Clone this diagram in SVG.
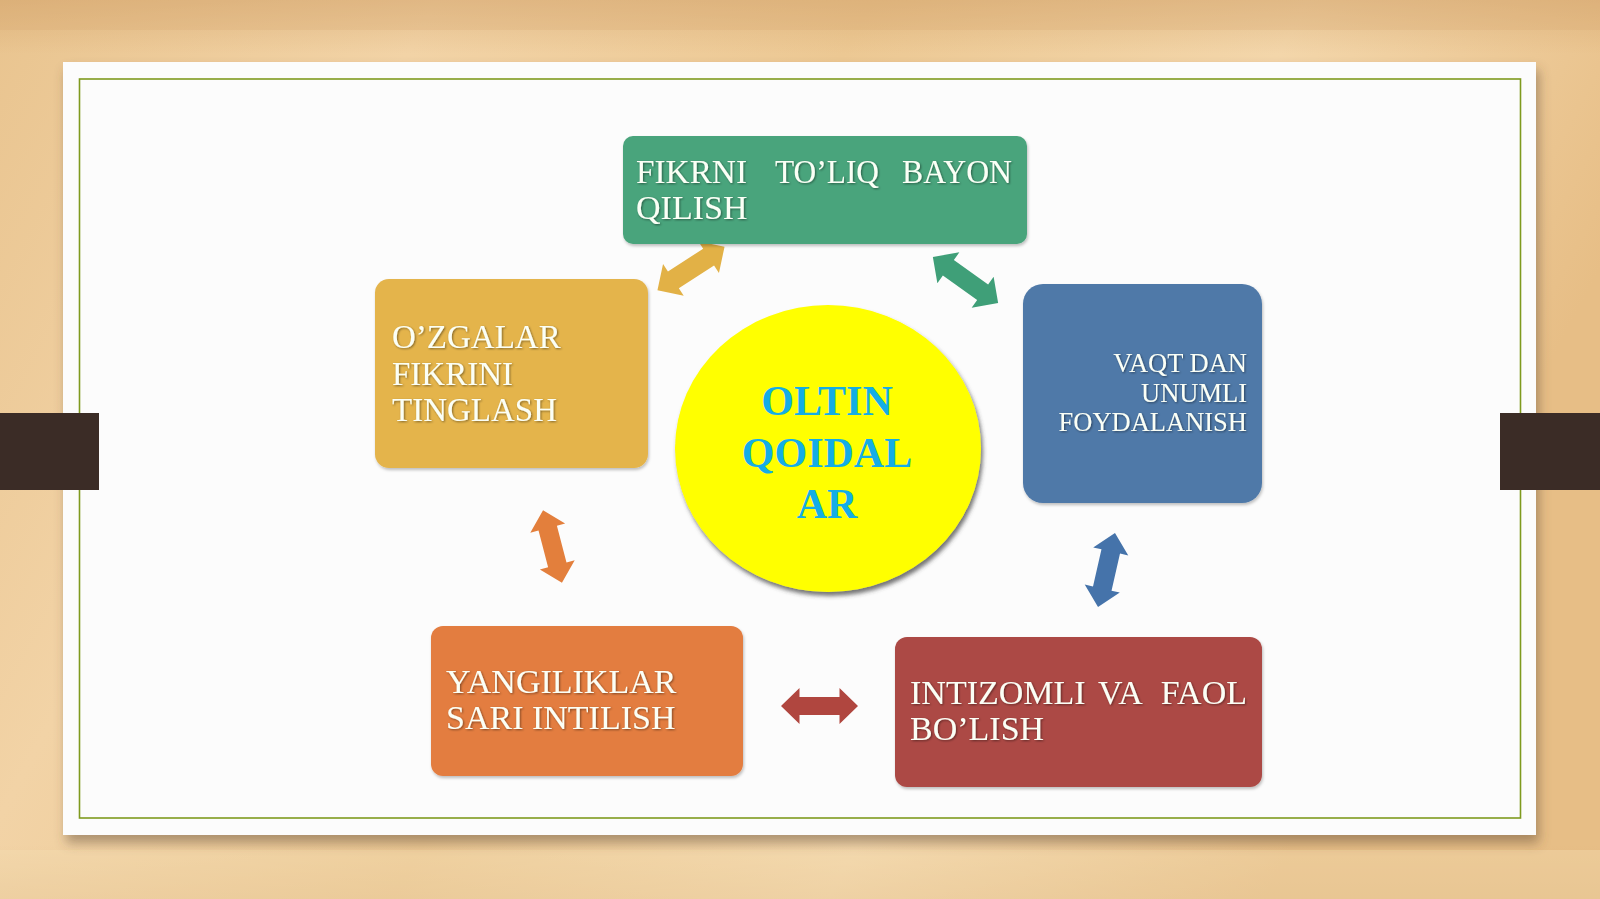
<svg xmlns="http://www.w3.org/2000/svg" width="1600" height="899" viewBox="0 0 1600 899">
  <defs>
    <linearGradient id="wood" x1="0" y1="0" x2="1" y2="0.3">
      <stop offset="0" stop-color="#e9c48f"/>
      <stop offset="0.25" stop-color="#f2d3a6"/>
      <stop offset="0.5" stop-color="#ecc893"/>
      <stop offset="0.75" stop-color="#f3d6aa"/>
      <stop offset="1" stop-color="#e7be86"/>
    </linearGradient>
    <linearGradient id="grain" x1="0" y1="0" x2="0" y2="1">
      <stop offset="0" stop-color="#c9955a" stop-opacity="0.35"/>
      <stop offset="0.06" stop-color="#c9955a" stop-opacity="0"/>
      <stop offset="0.94" stop-color="#c9955a" stop-opacity="0"/>
      <stop offset="1" stop-color="#c9955a" stop-opacity="0.2"/>
    </linearGradient>
    <filter id="cardShadow" x="-5%" y="-5%" width="110%" height="115%">
      <feDropShadow dx="3" dy="8" stdDeviation="6" flood-color="#5a4630" flood-opacity="0.45"/>
    </filter>
    <filter id="txtShadow" x="-5%" y="-20%" width="110%" height="140%">
      <feDropShadow dx="1" dy="1" stdDeviation="0.8" flood-color="#000" flood-opacity="0.45"/>
    </filter>
    <filter id="soft" x="-10%" y="-10%" width="120%" height="120%">
      <feDropShadow dx="1" dy="2" stdDeviation="1.5" flood-color="#000" flood-opacity="0.25"/>
    </filter>
    <filter id="circShadow" x="-10%" y="-10%" width="125%" height="125%">
      <feDropShadow dx="2" dy="4" stdDeviation="2" flood-color="#3a3a3a" flood-opacity="0.7"/>
    </filter>
  </defs>
  <style>
    .lbl { font-family: "Liberation Serif", "Times New Roman", serif; fill: #fbfff6; filter: url(#txtShadow); }
    .big { font-size: 34px; }
    .mid { font-size: 33px; }
    .sml { font-size: 26.5px; }
    .ctr { font-family: "Liberation Serif", "Times New Roman", serif; font-weight: bold; font-size: 42px; fill: #14ade6; text-anchor: middle; }
    .box { filter: url(#soft); }
  </style>

  <!-- background -->
  <rect x="0" y="0" width="1600" height="899" fill="url(#wood)"/>
  <rect x="0" y="0" width="1600" height="899" fill="url(#grain)"/>
  <rect x="0" y="0" width="1600" height="30" fill="#d9a86e" opacity="0.25"/>
  <rect x="0" y="850" width="1600" height="49" fill="#f6deb4" opacity="0.4"/>

  <!-- card -->
  <rect x="63" y="62" width="1473" height="773" fill="#fcfcfc" filter="url(#cardShadow)"/>
  <rect x="79.5" y="79" width="1441" height="739" fill="none" stroke="#7f9a1e" stroke-width="1.6"/>

  <!-- tabs -->
  <rect x="0" y="413" width="99" height="77" fill="#3b2c26"/>
  <rect x="1500" y="413" width="100" height="77" fill="#3b2c26"/>

  <!-- connectors -->
  <g id="connectors">
    <path transform="translate(691,268.5) rotate(-33)" fill="#e2b146" d="M -40,0 L -21,-19 L -21,-10 L 21,-10 L 21,-19 L 40,0 L 21,19 L 21,10 L -21,10 L -21,19 Z"/>
    <path transform="translate(965.5,280) rotate(35.3)" fill="#3f9f78" d="M -40,0 L -21,-19 L -21,-9.5 L 21,-9.5 L 21,-19 L 40,0 L 21,19 L 21,9.5 L -21,9.5 L -21,19 Z"/>
    <path transform="translate(552.5,546.5) rotate(75.4)" fill="#e37f3c" d="M -37.5,0 L -19,-18 L -19,-9.5 L 19,-9.5 L 19,-18 L 37.5,0 L 19,18 L 19,9.5 L -19,9.5 L -19,18 Z"/>
    <path transform="translate(1106.5,570) rotate(102.9)" fill="#4573aa" d="M -38,0 L -19,-18 L -19,-9.5 L 19,-9.5 L 19,-18 L 38,0 L 19,18 L 19,9.5 L -19,9.5 L -19,18 Z"/>
    <path transform="translate(819.5,706) rotate(0)" fill="#b0463f" d="M -38.5,0 L -20,-18 L -20,-9 L 20,-9 L 20,-18 L 38.5,0 L 20,18 L 20,9 L -20,9 L -20,18 Z"/>
  </g>

  <!-- nodes -->
  <g id="node-top">
    <rect class="box" x="623" y="136" width="404" height="108" rx="10" fill="#49a47b"/>
    <text class="lbl big" x="636" y="183" textLength="111" lengthAdjust="spacingAndGlyphs">FIKRNI</text>
    <text class="lbl big" x="775" y="183" textLength="104" lengthAdjust="spacingAndGlyphs">TO’LIQ</text>
    <text class="lbl big" x="902" y="183" textLength="110" lengthAdjust="spacingAndGlyphs">BAYON</text>
    <text class="lbl big" x="636" y="219">QILISH</text>
  </g>

  <g id="node-left">
    <rect class="box" x="375" y="279" width="273" height="189" rx="14" fill="#e4b44c"/>
    <text class="lbl mid" x="392" y="348">O’ZGALAR</text>
    <text class="lbl mid" x="392" y="385">FIKRINI</text>
    <text class="lbl mid" x="392" y="421">TINGLASH</text>
  </g>

  <g id="node-right">
    <rect class="box" x="1023" y="284" width="239" height="219" rx="20" fill="#4f79a8"/>
    <text class="lbl sml" x="1247" y="372" text-anchor="end">VAQT DAN</text>
    <text class="lbl sml" x="1247" y="402" text-anchor="end">UNUMLI</text>
    <text class="lbl sml" x="1247" y="431" text-anchor="end">FOYDALANISH</text>
  </g>

  <g id="node-bottom-left">
    <rect class="box" x="431" y="626" width="312" height="150" rx="12" fill="#e37d40"/>
    <text class="lbl big" x="446" y="693">YANGILIKLAR</text>
    <text class="lbl big" x="446" y="729">SARI INTILISH</text>
  </g>

  <g id="node-bottom-right">
    <rect class="box" x="895" y="637" width="367" height="150" rx="12" fill="#ac4a45"/>
    <text class="lbl big" x="910" y="704">INTIZOMLI</text>
    <text class="lbl big" x="1098" y="704">VA</text>
    <text class="lbl big" x="1247" y="704" text-anchor="end">FAOL</text>
    <text class="lbl big" x="910" y="740">BO’LISH</text>
  </g>

  <g id="node-center">
    <ellipse cx="828" cy="448.5" rx="153" ry="143.5" fill="#ffff00" filter="url(#circShadow)"/>
    <text class="ctr" x="827" y="415">OLTIN</text>
    <text class="ctr" x="827" y="467">QOIDAL</text>
    <text class="ctr" x="827" y="518">AR</text>
  </g>
</svg>
